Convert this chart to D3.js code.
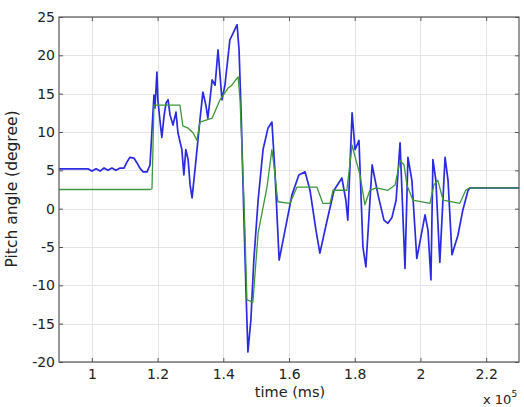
<!DOCTYPE html>
<html>
<head>
<meta charset="utf-8">
<script src="https://cdn.jsdelivr.net/npm/d3@7"></script>
<style>
  html, body { margin: 0; padding: 0; background: #fff; }
  svg { display: block; }
  text { font-family: "DejaVu Sans", sans-serif; fill: #222; }
</style>
</head>
<body>
<svg id="chart" width="524" height="407"></svg>
<script>
// time in units of 1e5 ms
const blueTime = [0.900,0.988,1.000,1.013,1.025,1.037,1.049,1.061,1.073,1.086,1.098,1.107,1.116,1.128,1.137,1.146,1.156,1.168,1.177,1.183,1.189,1.192,1.198,1.201,1.207,1.213,1.220,1.226,1.232,1.238,1.247,1.256,1.262,1.274,1.280,1.286,1.293,1.299,1.305,1.317,1.329,1.338,1.347,1.353,1.360,1.366,1.375,1.384,1.396,1.405,1.420,1.430,1.442,1.448,1.454,1.463,1.469,1.475,1.484,1.493,1.506,1.521,1.536,1.548,1.557,1.570,1.588,1.609,1.630,1.649,1.664,1.682,1.694,1.713,1.737,1.761,1.773,1.779,1.792,1.801,1.813,1.825,1.834,1.853,1.871,1.889,1.901,1.913,1.926,1.938,1.953,1.962,1.974,1.989,2.014,2.023,2.032,2.038,2.047,2.059,2.075,2.084,2.096,2.114,2.129,2.145,2.151,2.300];
const blueAngle = [5.2,5.2,4.9,5.2,4.9,5.3,5.0,5.3,5.0,5.3,5.3,6.1,6.7,6.6,6.0,5.3,4.8,4.8,5.7,10.3,14.8,13.1,17.8,14.2,11.6,9.3,12.2,13.8,14.2,12.2,10.9,12.6,9.9,7.7,4.4,7.7,6.4,3.1,1.4,6.4,11.6,15.2,13.5,11.8,14.4,16.8,16.1,20.7,14.2,16.1,22.0,22.9,24.0,20.7,12.9,-1.5,-10.6,-18.7,-14.5,-6.7,1.1,7.7,10.5,11.3,5.0,-6.7,-2.8,1.8,4.4,4.8,2.4,-2.8,-5.8,-2.1,2.4,4.0,1.1,-1.5,12.5,7.7,8.9,-5.0,-7.6,5.7,1.8,-1.5,-1.9,-1.2,1.1,8.6,-7.8,6.7,3.7,-6.5,-0.8,-2.8,-9.3,6.4,3.7,-7.0,6.7,3.7,-6.0,-3.5,-0.2,2.4,2.7,2.7];

const greenTime = [0.900,1.177,1.183,1.189,1.268,1.277,1.293,1.308,1.320,1.329,1.366,1.390,1.414,1.426,1.445,1.451,1.463,1.472,1.490,1.506,1.533,1.548,1.554,1.566,1.603,1.624,1.685,1.703,1.725,1.734,1.776,1.792,1.804,1.816,1.831,1.846,1.865,1.901,1.923,1.938,1.950,1.959,1.977,2.029,2.041,2.053,2.069,2.120,2.138,2.148,2.300];
const greenAngle = [2.5,2.5,2.6,13.5,13.5,10.8,10.5,9.9,8.9,11.3,11.8,14.2,15.7,16.1,17.2,14.2,1.1,-11.9,-12.2,-3.2,2.8,7.7,5.7,0.9,0.7,2.8,2.8,0.7,0.7,2.4,2.4,8.3,6.3,4.4,0.5,2.4,2.7,2.4,3.1,6.3,5.7,3.1,1.1,0.7,3.1,3.7,1.1,0.7,2.4,2.7,2.7];

const xTicks = [1, 1.2, 1.4, 1.6, 1.8, 2, 2.2];
const yTicks = [-20, -15, -10, -5, 0, 5, 10, 15, 20, 25];

const svg = d3.select("#chart");
const mLeft = 59, mRight = 519, mTop = 17, mBottom = 362;

const x = d3.scaleLinear().domain([0.9, 2.3]).range([mLeft, mRight]);
const y = d3.scaleLinear().domain([-20, 25]).range([mBottom, mTop]);

// grid
const grid = svg.append("g");
grid.selectAll(".gx").data(xTicks).enter().append("line")
  .attr("x1", d => Math.round(x(d)) + 0.5).attr("x2", d => Math.round(x(d)) + 0.5)
  .attr("y1", mTop).attr("y2", mBottom)
  .attr("stroke", "#e4e4e4").attr("stroke-width", 1);
grid.selectAll(".gy").data(yTicks).enter().append("line")
  .attr("y1", d => Math.round(y(d)) + 0.5).attr("y2", d => Math.round(y(d)) + 0.5)
  .attr("x1", mLeft).attr("x2", mRight)
  .attr("stroke", "#e4e4e4").attr("stroke-width", 1);

// axes with inward ticks
const fmt = d => String(d);
const xAxisB = d3.axisBottom(x).tickValues(xTicks).tickSize(-4).tickPadding(7).tickFormat(fmt);
const xAxisT = d3.axisTop(x).tickValues(xTicks).tickSize(-4).tickFormat("");
const yAxisL = d3.axisLeft(y).tickValues(yTicks).tickSize(-4).tickPadding(4).tickFormat(fmt);
const yAxisR = d3.axisRight(y).tickValues(yTicks).tickSize(-4).tickFormat("");

function style(g) {
  g.select(".domain").remove();
  g.selectAll(".tick line").attr("stroke", "#555");
  g.selectAll(".tick text").attr("font-size", 14).attr("fill", "#2a2a2a")
    .attr("font-family", "'DejaVu Sans', sans-serif");
}
svg.append("g").attr("transform", `translate(0,${mBottom})`).call(xAxisB).call(style);
svg.append("g").attr("transform", `translate(0,${mTop})`).call(xAxisT).call(style);
svg.append("g").attr("transform", `translate(${mLeft},0)`).call(yAxisL).call(style);
svg.append("g").attr("transform", `translate(${mRight},0)`).call(yAxisR).call(style);

// lines
const line = d3.line().x(d => x(d[0])).y(d => y(d[1]));
const blueData = blueTime.map((t, i) => [t, blueAngle[i]]);
const greenData = greenTime.map((t, i) => [t, greenAngle[i]]);

svg.append("path").datum(blueData).attr("d", line)
  .attr("fill", "none").attr("stroke", "#2a2ae0").attr("stroke-width", 1.7)
  .attr("stroke-linejoin", "round");
svg.append("path").datum(greenData).attr("d", line)
  .attr("fill", "none").attr("stroke", "#3c963c").attr("stroke-width", 1.3)
  .attr("stroke-linejoin", "round");

// box
svg.append("rect").attr("x", mLeft).attr("y", mTop)
  .attr("width", mRight - mLeft).attr("height", mBottom - mTop)
  .attr("fill", "none").attr("stroke", "#555").attr("stroke-width", 1.2);

// labels
svg.append("text").attr("x", 290).attr("y", 397)
  .attr("text-anchor", "middle").attr("font-size", 14.5).text("time (ms)");
svg.append("text").attr("transform", `translate(17,189) rotate(-90)`)
  .attr("text-anchor", "middle").attr("font-size", 15.5).text("Pitch angle (degree)");
const exp = svg.append("text").attr("x", 483).attr("y", 404).attr("font-size", 13);
exp.append("tspan").text("x 10");
exp.append("tspan").attr("font-size", 9).attr("dy", -7).text("5");
</script>
</body>
</html>
